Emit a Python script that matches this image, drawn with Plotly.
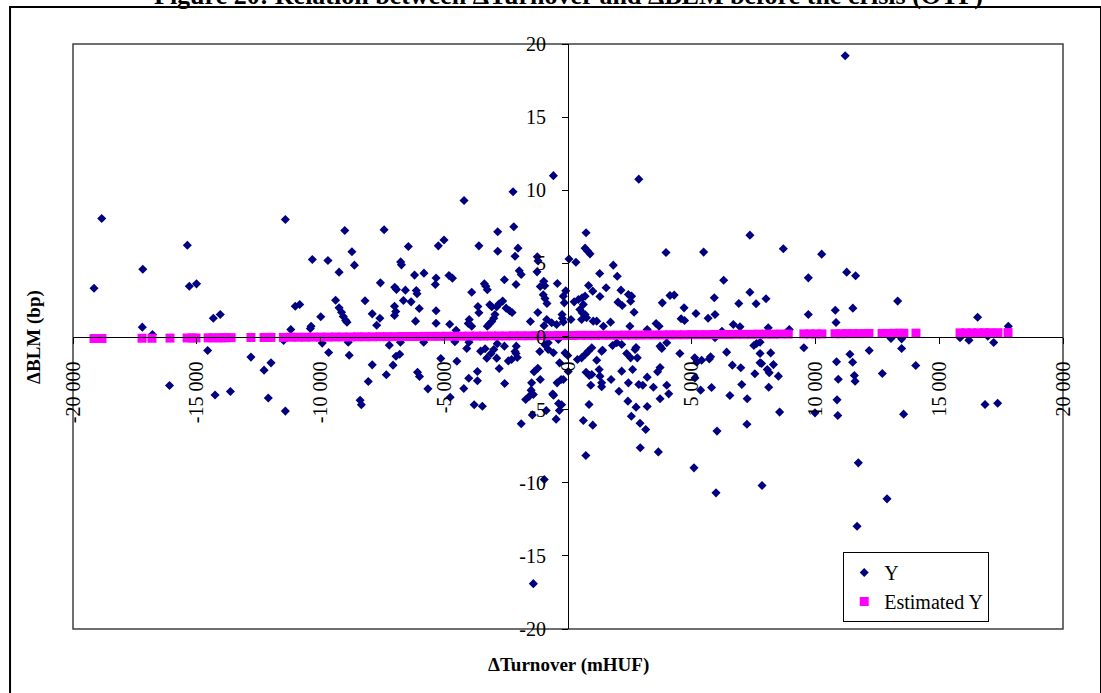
import plotly.graph_objects as go

# ---------------- data ----------------
# Y series: change in turnover (mHUF) vs change in BLM (bp)
turnover = [
    -18840, -19150, -17180, -17200, -16790, -15380, -15300, -15010, -14330, -14050,
    -14560, -12810, -12280, -12000, -16100, -14260, -13640, -12110, -11420, -10330,
    -11020, -10840, -11200, -10380, -10410, -9990, -11490, -9930, -11420,
    -590, -2220, -4200, -2190, -2840, -9020, -7430, -5010, -5240, -6450,
    -3600, -2840, -2020, -2140, -8730, -8630, -9700, -6760, -6730, -9250,
    -1240, -1210, 40, -1250, -1970, -1890, -6200, -5820, -4810, -4670,
    -5330, -5360, -7580, -7000, -6930, -6570, -6130, -6100, -3380, -3320,
    -3260, -2570, -3890, -2100, -980, -940, -1120, -430, -90, -190,
    -1000, -930, -850, -150, -8200, -9390, -9250, -9150, -9080, -8980,
    -8930, -6650, -6340, -7010, -6960, -7010, -7910, -7600, -7730, -6010,
    -6160, -5330, -5330, -4780, -4520, -3640, -3600, -3990, -4030, -3890,
    -3160, -3080, -2880, -2780, -2640, -2950, -3000, -3080, -3190, -3260,
    -2500, -2360, -2260, -1520, -1220, -860, -970, -660, -460, -240,
    -230, -190,
    -9670, -8880, -8840, -7910, -8070, -8400, -8350, -7340, -7220, -7070,
    -6950, -6800, -6770, -6080, -6000, -5830, -5660, -5140, -4760, -4570,
    -4490, -4210, -4090, -4000, -3660, -4010, -3660, -3790, -3460, -3530,
    -3350, -3280, -3110, -3000, -2860, -2880, -2780, -2570, -2560, -2410,
    -2280, -2140, -2090, -2100, -2050, -1710, -1490, -1400, -1560, -1470,
    -1370, -1220, -1120, -1140, -930, -800, -590, -800, -390, -340,
    -280, -580, -440, -260, 10,
    -1400, -960, -1890, -1440, -480, -350, -380, -880, -620, -190, -10,
    2860, 730, 690, 780, 890, 320, 3960, 5480, 7350, 8700,
    1830, 1280, 1990, 1540, 2140, 830, 1000, 1290, 250, 420,
    570, 690, 620, 480, 570, 690, 750, 550, 2020, 2190,
    2440, 2570, 2530, 2670, 3810, 4120, 4290, 4690, 4570, 4710,
    5170, 5910, 5940, 5660, 6290, 6900, 7350, 7600, 8000, 9710,
    9710, 8940, 8090, 6680, 6950, 6220, 3560, 3680, 3200, 2500,
    1720, 1430, 1020, 1160, 120,
    -120, 380, 550, 690, 820, 960, 730, 860, 960, 920,
    1160, 1360, 1260, 1290, 1360, 1360, 850, 1740, 1800, 1970,
    2170, 2170, 2060, 2420, 2440, 2370, 2530, 2710, 2800, 2610,
    2750, 2860, 3020, 2750, 3200, 3200, 3450, 3620, 3720, 3720,
    3790, 3990, 3990, 4070, 3720, 4520, 5200, 5120, 5130, 5400,
    5710, 5760, 5360, 5800, 5940, 6410, 6640, 6980, 7020, 6540,
    7240, 7510, 7620, 7760, 7550, 7760, 7760, 7820, 8190, 8300,
    8050, 8130, 8500, 8110, 9530,
    720, 620, 1000, 2560, 2910, 3140, 2920, 3650, 5090, 5980,
    6020, 7230, 7840, 8550, 1400,
    10250, 11260, 11620, 13320, 10800, 10830, 11510, 16550, 17790, 13050,
    13480, 13480, 15840, 16200, 16960, 17200, 12170, 11390, 11500, 10850,
    10920, 11570, 11600, 12700, 14050, 10870, 16850, 17360, 9980, 10900,
    11730, 12890, 11680, 13560, 11200,
]
blm = [
    8.07, 3.3, 4.6, 0.64, 0.14, 6.24, 3.44, 3.6, 1.25, 1.5,
    -0.96, -1.41, -2.3, -1.8, -3.35, -4.0, -3.76, -4.2, 8.0, 5.26,
    2.07, 2.19, 0.48, 0.7, 0.55, 1.35, -0.27, -0.45, -5.1,
    11.0, 9.9, 9.3, 7.5, 7.16, 7.25, 7.3, 6.6, 6.2, 6.15,
    6.2, 5.83, 6.04, 5.49, 5.8, 4.88, 5.2, 5.1, 4.9, 4.4,
    5.45, 5.17, 5.3, 4.42, 4.5, 4.24, 4.2, 4.33, 4.17, 3.99,
    4.0, 3.56, 3.67, 3.37, 3.21, 3.17, 3.15, 2.92, 3.6, 3.44,
    3.2, 3.88, 3.03, 3.56, 3.78, 3.47, 3.42, 3.62, 3.12, 2.76,
    2.85, 2.6, 2.26, 2.3, 2.44, 2.48, 1.96, 1.66, 1.37, 1.1,
    0.98, 2.46, 2.37, 2.07, 1.71, 1.44, 1.55, 1.25, 0.77, 1.91,
    1.05, 1.76, 0.91, 0.84, 0.43, 2.05, 1.62, 1.16, 0.89, 0.7,
    2.17, 2.03, 2.03, 2.24, 2.42, 1.5, 1.25, 1.03, 0.84, 0.7,
    1.94, 1.76, 1.64, 1.03, 1.64, 1.16, 0.73, 0.94, 0.82, 1.5,
    1.25, 1.0,
    -1.09, -0.39, -1.28, -1.94, -3.08, -4.36, -4.67, -2.62, -0.59, -1.96,
    -1.35, -1.21, -0.39, -2.44, -2.74, -0.39, -3.58, -1.5, -4.15, -0.36,
    -1.69, -3.56, -0.82, -0.39, -2.39, -2.85, -3.03, -4.67, -4.77, -1.0,
    -0.84, -1.48, -1.16, -0.89, -0.5, -1.48, -2.19, -0.66, -3.21, -1.67,
    -1.57, -1.03, -0.66, -1.16, -1.44, -4.31, -3.67, -3.97, -4.08, -3.17,
    -2.41, -2.17, -2.94, -1.03, -0.57, -0.89, -1.11, -0.43, -0.2, -1.8,
    -2.94, -4.01, -3.17, -4.67, -2.39,
    -16.9, -9.78, -5.97, -5.36, -5.65, -5.06, -4.58, -5.06, -3.94, -2.94, -1.3,
    10.76, 7.09, 6.04, 5.86, 5.65, 5.08, 5.74, 5.77, 6.93, 6.0,
    4.88, 4.31, 4.12, 3.33, 3.17, 3.49, 3.1, 2.74, 2.37, 2.53,
    2.65, 2.76, 2.19, 1.85, 1.62, 1.5, 1.28, 1.16, 2.35, 2.12,
    2.87, 2.76, 2.41, 1.66, 2.3, 2.8, 2.83, 1.96, 1.21, 1.09,
    1.57, 2.65, 1.5, 1.25, 3.85, 2.26, 3.03, 2.24, 2.58, 4.01,
    1.5, 0.48, 0.59, 0.82, 0.66, 0.36, 0.89, 0.7, 0.48, 0.7,
    0.98, 0.7, 1.05, 1.05, 1.16,
    -1.12, -1.57, -1.46, -1.23, -1.0, -0.77, -2.44, -2.67, -2.6, -3.33,
    -1.62, -1.0, -2.26, -2.71, -3.17, -3.44, -4.65, -2.94, -0.62, -0.43,
    -0.55, -2.37, -3.74, -4.42, -3.17, -1.16, -1.46, -0.89, -1.46, -2.26,
    -0.75, -3.28, -3.33, -4.83, -4.79, -2.78, -3.47, -2.41, -2.12, -0.66,
    -0.82, -0.43, -3.33, -3.92, -4.26, -1.16, -1.76, -1.46, -2.83, -1.62,
    -1.53, -1.39, -3.67, -3.49, -0.09, -1.07, -1.96, -2.14, -3.28, -4.03,
    -4.26, -0.62, -0.48, -0.39, -2.55, -1.16, -1.8, -1.85, -1.12, -1.92,
    -2.26, -2.48, -2.71, -3.47, -0.77,
    -8.14, -5.74, -6.06, -5.45, -5.93, -6.36, -7.61, -7.89, -8.98, -10.69,
    -6.47, -6.0, -10.19, -5.17, -0.94,
    5.63, 4.4, 4.15, 2.42, 1.8, 0.96, 1.94, 1.32, 0.7, -0.14,
    -0.16, -0.82, -0.09, -0.25, 0.02, -0.41, -0.96, -1.21, -1.76, -1.73,
    -2.92, -2.67, -3.06, -2.53, -1.98, -4.33, -4.65, -4.56, -5.22, -5.4,
    -8.64, -11.1, -12.97, -5.31, 19.2,
]

# Estimated Y series (fitted values)
est_turnover = [
    -19150, -18830, -17210, -16810, -16080, -15390, -15190, -15030, -14540, -14340,
    -14140, -13980, -13820, -13610, -12810, -12280, -12120, -12000,
    -11500, -11200, -10900, -10600, -10300, -10000, -9700, -9400, -9100, -8800,
    -8500, -8200, -7900, -7600, -7300, -7000, -6700, -6400, -6100, -5800,
    -5500, -5200, -4900, -4600, -4300, -4000, -3700, -3400, -3100, -2800,
    -2500, -2200, -1900, -1600, -1300, -1000, -700, -400, -100, 200,
    500, 800, 1100, 1400, 1700, 2000, 2300, 2600, 2900, 3200,
    3500, 3800, 4100, 4400, 4700, 5000, 5300, 5600, 5900, 6200,
    6500, 6800, 7100, 7400, 7700, 8000, 8300, 8600, 8900,
    9530, 9780, 10020, 10260, 10790, 11030, 11270, 11510, 11760, 12000,
    12160, 12690, 12930, 13170, 13410, 13570, 14060, 15840, 16080, 16320,
    16560, 16810, 17050, 17370, 17780,
]
est_blm = [
    -0.14, -0.14, -0.12, -0.12, -0.11, -0.10, -0.10, -0.10, -0.09, -0.09,
    -0.09, -0.09, -0.08, -0.08, -0.07, -0.07, -0.06, -0.06,
    -0.06, -0.05, -0.05, -0.05, -0.04, -0.04, -0.04, -0.03, -0.03, -0.03,
    -0.02, -0.02, -0.02, -0.01, -0.01, -0.01, 0.00, 0.00, 0.00, 0.01,
    0.01, 0.01, 0.02, 0.02, 0.02, 0.03, 0.03, 0.03, 0.04, 0.04,
    0.04, 0.05, 0.05, 0.05, 0.06, 0.06, 0.06, 0.07, 0.07, 0.07,
    0.08, 0.08, 0.08, 0.09, 0.09, 0.09, 0.10, 0.10, 0.10, 0.11,
    0.11, 0.11, 0.12, 0.12, 0.12, 0.13, 0.13, 0.13, 0.14, 0.14,
    0.14, 0.15, 0.15, 0.15, 0.16, 0.16, 0.16, 0.17, 0.17,
    0.18, 0.18, 0.18, 0.18, 0.19, 0.19, 0.20, 0.20, 0.20, 0.20,
    0.21, 0.21, 0.21, 0.22, 0.22, 0.22, 0.23, 0.25, 0.25, 0.25,
    0.25, 0.26, 0.26, 0.26, 0.27,
]

x_tick_vals = [-20000, -15000, -10000, -5000, 0, 5000, 10000, 15000, 20000]
x_tick_text = ["-20 000", "-15 000", "-10 000", "-5 000", "0", "5 000", "10 000", "15 000", "20 000"]
y_tick_vals = [20, 15, 10, 5, 0, -5, -10, -15, -20]
y_tick_text = ["20", "15", "10", "5", "0", "-5", "-10", "-15", "-20"]

title_text = "Figure 20: Relation between ΔTurnover and ΔBLM before the crisis (OTF)"
x_title = "ΔTurnover (mHUF)"
y_title = "ΔBLM (bp)"

assert len(turnover) == len(blm)
assert len(est_turnover) == len(est_blm)

# ---------------- figure ----------------
SERIF = "Liberation Serif, Times New Roman, serif"

fig = go.Figure()
fig.add_trace(go.Scatter(
    x=turnover, y=blm, mode="markers", name="Y",
    marker=dict(symbol="diamond", size=7, color="#000080", line=dict(width=0)),
    hoverinfo="skip",
))
fig.add_trace(go.Scatter(
    x=est_turnover, y=est_blm, mode="markers", name="Estimated Y",
    marker=dict(symbol="square", size=9, color="#FF00FF", line=dict(width=0)),
    hoverinfo="skip",
))

axis_common = dict(
    anchor="free", position=0.5,
    showline=True, linecolor="black", linewidth=1,
    ticks="outside", ticklen=6, tickwidth=1, tickcolor="black",
    showgrid=False, zeroline=False,
    tickfont=dict(family=SERIF, size=20, color="black"),
    fixedrange=True,
)

fig.update_layout(
    width=1101, height=693,
    margin=dict(l=73, r=38, t=44, b=64, pad=0),
    paper_bgcolor="white", plot_bgcolor="white",
    showlegend=True,
    legend=dict(
        x=0.778, y=0.1316, xanchor="left", yanchor="top",
        bgcolor="white", bordercolor="black", borderwidth=1,
        font=dict(family=SERIF, size=20, color="black"),
        itemwidth=30, tracegroupgap=0,
    ),
    xaxis=dict(range=[-20000, 20000], tickmode="array", tickvals=x_tick_vals,
               ticktext=x_tick_text, tickangle=-90, ticklabelstandoff=10,
               **axis_common),
    yaxis=dict(range=[-20, 20], tickmode="array", tickvals=y_tick_vals,
               ticktext=y_tick_text, ticklabelstandoff=12, **axis_common),
    shapes=[
        dict(type="rect", xref="paper", yref="paper", x0=0, x1=1, y0=0, y1=1,
             line=dict(color="#404040", width=1.5), layer="below"),
        dict(type="rect", xref="paper", yref="paper",
             x0=-0.0636, x1=1.0384, y0=-0.13, y1=1.0632,
             line=dict(color="black", width=2), layer="below"),
    ],
    annotations=[
        dict(text="<b>" + title_text + "</b>", xref="paper", yref="paper",
             x=0.5, y=1.0547, xanchor="center", yanchor="bottom", showarrow=False,
             font=dict(family=SERIF, size=26, color="black")),
        dict(text="<b>" + y_title + "</b>", xref="paper", yref="paper",
             x=-0.040, y=0.5, xanchor="center", yanchor="middle", textangle=-90,
             showarrow=False, font=dict(family=SERIF, size=19, color="black")),
        dict(text="<b>" + x_title + "</b>", xref="paper", yref="paper",
             x=0.5, y=-0.0615, xanchor="center", yanchor="middle",
             showarrow=False, font=dict(family=SERIF, size=19, color="black")),
    ],
)

fig.write_html(
    "out.html",
    config={"displayModeBar": False},
    post_script="document.body.style.margin='0';document.body.style.overflow='hidden';",
)
